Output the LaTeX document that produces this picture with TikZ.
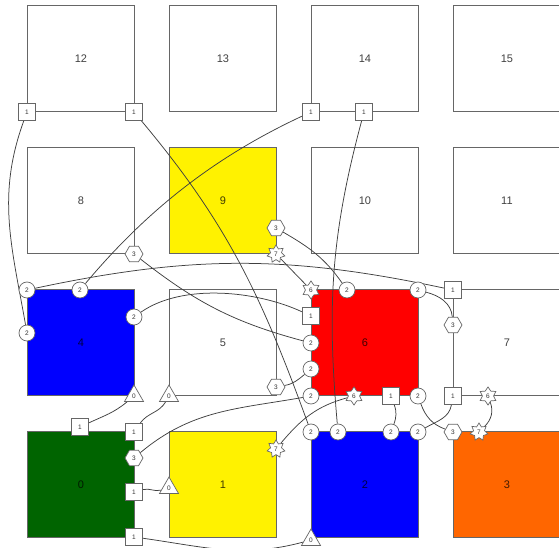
\documentclass[tikz,border=0pt]{standalone}
\usepackage{fontspec}
\setmainfont{Liberation Sans}
\usetikzlibrary{shapes.geometric,shapes.misc}
\pgfdeclarelayer{sq}
\pgfdeclarelayer{ln}
\pgfsetlayers{sq,ln,main}
\definecolor{dgreen}{RGB}{0,100,0}
\definecolor{orng}{RGB}{255,102,0}
\begin{document}
\begin{tikzpicture}[x=1pt,y=1pt,
  tile/.style={draw=black!60, line width=0.9pt, minimum width=107pt, minimum height=106pt,
    inner sep=0pt, anchor=south west, font=\fontsize{11}{11}\selectfont, text opacity=0.75},
  mk/.style={draw=black!60, fill=white, line width=0.7pt, inner sep=0pt,
    font=\fontsize{6.5}{6.5}\selectfont, text=black!80},
  mkbox/.style={mk, rectangle, minimum size=17pt},
  mkcirc/.style={mk, circle, minimum size=16pt},
  mkhex/.style={mk, regular polygon, regular polygon sides=6, minimum size=18pt},
  mktri/.style={mk, regular polygon, regular polygon sides=3, minimum size=22pt},
  mkstarsix/.style={mk, star, star points=6, star point ratio=1.6, minimum size=18pt},
  mkstarseven/.style={mk, star, star points=7, star point ratio=1.6, minimum size=18pt},
  cn/.style={draw=black!75, line width=0.75pt}]
\useasboundingbox (0,0) rectangle (559,548);
\clip (0,0) rectangle (559,548);
\begin{pgfonlayer}{sq}
\node[tile, fill=dgreen] (s0) at (27,10) {0};
\node[tile, fill=yellow] (s1) at (169,10) {1};
\node[tile, fill=blue] (s2) at (311,10) {2};
\node[tile, fill=orng] (s3) at (453,10) {3};
\node[tile, fill=blue] (s4) at (27,152) {4};
\node[tile, fill=white] (s5) at (169,152) {5};
\node[tile, fill=red] (s6) at (311,152) {6};
\node[tile, fill=white] (s7) at (453,152) {7};
\node[tile, fill=white] (s8) at (27,294) {8};
\node[tile, fill=yellow] (s9) at (169,294) {9};
\node[tile, fill=white] (s10) at (311,294) {10};
\node[tile, fill=white] (s11) at (453,294) {11};
\node[tile, fill=white] (s12) at (27,436) {12};
\node[tile, fill=white] (s13) at (169,436) {13};
\node[tile, fill=white] (s14) at (311,436) {14};
\node[tile, fill=white] (s15) at (453,436) {15};
\end{pgfonlayer}
% square markers
\node[mkbox] (A) at (27,436) {1};
\node[mkbox] (B) at (134,436) {1};
\node[mkbox] (C) at (311,436) {1};
\node[mkbox] (D) at (364,436) {1};
\node[mkbox] (E) at (311,232) {1};
\node[mkbox] (F) at (453,258) {1};
\node[mkbox] (G) at (391,152) {1};
\node[mkbox] (H) at (453,152) {1};
\node[mkbox] (I) at (80,121) {1};
\node[mkbox] (J) at (134,116) {1};
\node[mkbox] (K) at (134,56) {1};
\node[mkbox] (L) at (134,11) {1};
% circle markers
\node[mkcirc] (c1) at (27,258) {2};
\node[mkcirc] (c2) at (80,258) {2};
\node[mkcirc] (c3) at (27,215) {2};
\node[mkcirc] (c4) at (134,231) {2};
\node[mkcirc] (c5) at (347,258) {2};
\node[mkcirc] (c6) at (418,258) {2};
\node[mkcirc] (c7) at (311,205) {2};
\node[mkcirc] (c8) at (311,179) {2};
\node[mkcirc] (c9) at (311,152) {2};
\node[mkcirc] (c10) at (418,152) {2};
\node[mkcirc] (c11) at (311,116) {2};
\node[mkcirc] (c12) at (338,116) {2};
\node[mkcirc] (c13) at (391,116) {2};
\node[mkcirc] (c14) at (418,116) {2};
% hexagons
\node[mkhex] (h1) at (134,294) {3};
\node[mkhex] (h2) at (276,320) {3};
\node[mkhex] (h3) at (276,161) {3};
\node[mkhex] (h4) at (453,223) {3};
\node[mkhex] (h5) at (134,90) {3};
\node[mkhex] (h6) at (453,116) {3};
% triangles
\node[mktri] (t1) at (134,152) {0};
\node[mktri] (t2) at (169,152) {0};
\node[mktri] (t3) at (169,60) {0};
\node[mktri] (t4) at (311,8) {0};
% stars
\node[mkstarsix] (sa) at (311,258) {6};
\node[mkstarsix] (sb) at (354,152) {6};
\node[mkstarsix] (sc) at (488,152) {6};
\node[mkstarseven] (sd) at (276,294) {7};
\node[mkstarseven] (se) at (276,99) {7};
\node[mkstarseven] (sf) at (479,116) {7};
\begin{pgfonlayer}{ln}
\draw[cn] (A) to[out=250,in=100] (c3);
\draw[cn] (B) to[out=-50,in=110] (c11);
\draw[cn] (C) to[out=205,in=50,looseness=0.9] (c2);
\draw[cn] (D) to[out=255,in=95] (c12);
\draw[cn] (c4) to[out=35,in=155,looseness=0.8] (E);
\draw[cn] (c1) to[out=12,in=168] (F);
\draw[cn] (h2) to[out=-30,in=125] (c5);
\draw[cn] (sd) -- (sa);
\draw[cn] (c6) to[out=-15,in=95] (h4);
\draw[cn] (h1) to[out=-38,in=165] (c7);
\draw[cn] (h3) to[out=10,in=220] (c8);
\draw[cn] (h5) to[out=40,in=190] (c9);
\draw[cn] (c10) to[out=-70,in=160] (h6);
\draw[cn] (H) to[out=-100,in=30] (c14);
\draw[cn] (G) to[out=-70,in=70] (c13);
\draw[cn] (sb) to[out=195,in=50] (se);
\draw[cn] (sc) to[out=-70,in=45] (sf);
\draw[cn] (I) to[out=25,in=220] (t1);
\draw[cn] (J) to[out=55,in=240] (t2);
\draw[cn] (K) to[out=15,in=195] (t3);
\draw[cn] (L) to[out=-8,in=195] (t4);
\end{pgfonlayer}
\end{tikzpicture}
\end{document}
